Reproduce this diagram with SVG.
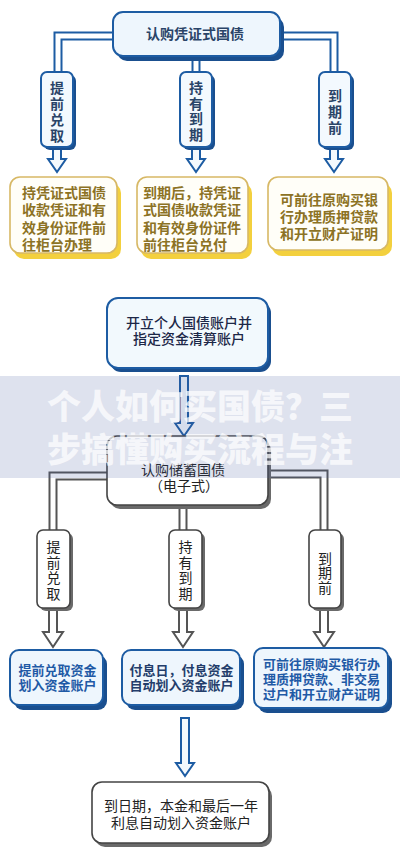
<svg xmlns="http://www.w3.org/2000/svg" width="400" height="857" viewBox="0 0 400 857">
<style>
text{font-family:"Noto Sans CJK SC","Noto Sans",sans-serif;}
.bg{fill:#ffffff}
.pb{fill:none;stroke:#1d5ca3;stroke-width:9;stroke-linejoin:miter}
.pg{fill:none;stroke:#555555;stroke-width:9;stroke-linejoin:miter}
.pw{fill:none;stroke:#ffffff;stroke-width:5;stroke-linejoin:miter}
.ab{fill:#f4f9fd;stroke:#1d5ca3;stroke-width:2;stroke-linejoin:miter}
.ag{fill:#ffffff;stroke:#555555;stroke-width:2;stroke-linejoin:miter}
.bshad{fill:#1a4f8f}
.bbox{fill:#eef6fd;stroke:#1d5ca3;stroke-width:2}
.ybox{fill:#fffef8;stroke:#d7b865;stroke-width:1.6}
.yshad{fill:#f3d03e}
.gshad{fill:#6a6a6a}
.gbox{fill:#ffffff;stroke:#444444;stroke-width:1.6}
.tb{font-size:14px;font-weight:700;fill:#2a4468}
.ty{font-size:14px;font-weight:700;fill:#8c7224}
.tn{font-size:14px;font-weight:500;fill:#1c2747}
.tg{font-size:14px;font-weight:400;fill:#222222}
.tbl{font-size:13px;font-weight:700;fill:#1f5aa6}
.c{text-anchor:middle}
.v{writing-mode:vertical-rl;text-anchor:middle}
</style>
<rect class="bg" x="0" y="0" width="400" height="857"/>

<g id="connectors">
  <path class="pb" d="M120,36 H58 V76"/><path class="pw" d="M120,36 H58 V76"/>
  <path class="pb" d="M273,36 H334 V76"/><path class="pw" d="M273,36 H334 V76"/>
  <path class="pb" d="M196,50 V76"/><path class="pw" d="M196,50 V76"/>
  <polygon class="ab" points="53,145 61,145 61,159 66,159 57,172 48,159 53,159"/>
  <polygon class="ab" points="192,145 200,145 200,159 205,159 196,172 187,159 192,159"/>
  <polygon class="ab" points="330,145 338,145 338,159 343,159 334,172 325,159 330,159"/>
  <polygon class="ab" points="180,376 188,376 188,423 193,423 184,436 175,423 180,423"/>
  <path class="pg" d="M115,476 H53 V534"/><path class="pw" d="M115,476 H53 V534"/>
  <path class="pg" d="M262,474 H324 V534"/><path class="pw" d="M262,474 H324 V534"/>
  <path class="pg" d="M183,500 V534"/><path class="pw" d="M183,500 V534"/>
  <polygon class="ag" points="49,606 57,606 57,632 63,632 53,647 43,632 49,632"/>
  <polygon class="ag" points="179,606 187,606 187,632 193,632 183,647 173,632 179,632"/>
  <polygon class="ag" points="320,606 328,606 328,632 334,632 324,647 314,632 320,632"/>
  <polygon class="ab" points="181,718 189,718 189,763 194,763 185,776 176,763 181,763"/>
</g>

<g id="node-top">
  <rect class="bshad" x="117" y="17" width="167" height="44" rx="10"/>
  <rect class="bbox" x="113" y="12" width="167" height="44" rx="10"/>
  <text class="tb c" x="195" y="39">认购凭证式国债</text>
</g>

<g id="label-t1">
  <rect class="bshad" x="44" y="75" width="32" height="75" rx="6"/>
  <rect class="bbox" x="41" y="72" width="32" height="75" rx="6" style="fill:#f3f9fe"/>
  <text class="tb v" x="57" y="113" letter-spacing="2">提前兑取</text>
</g>
<g id="label-t2">
  <rect class="bshad" x="183" y="75" width="32" height="75" rx="6"/>
  <rect class="bbox" x="180" y="72" width="32" height="75" rx="6" style="fill:#f3f9fe"/>
  <text class="tb v" x="196" y="112" letter-spacing="1.5">持有到期</text>
</g>
<g id="label-t3">
  <rect class="bshad" x="322" y="75" width="32" height="75" rx="6"/>
  <rect class="bbox" x="319" y="72" width="32" height="75" rx="6" style="fill:#f3f9fe"/>
  <text class="tb v" x="335" y="113" letter-spacing="2">到期前</text>
</g>

<g id="box-y1">
  <rect class="yshad" x="14" y="183" width="107" height="76" rx="10"/>
  <rect class="ybox" x="10" y="177" width="107" height="76" rx="10"/>
  <text class="ty"><tspan x="22" y="198">持凭证式国债</tspan><tspan x="22" y="215">收款凭证和有</tspan><tspan x="22" y="232.5">效身份证件前</tspan><tspan x="22" y="249.5">往柜台办理</tspan></text>
</g>
<g id="box-y2">
  <rect class="yshad" x="141" y="183" width="111" height="76" rx="10"/>
  <rect class="ybox" x="137" y="177" width="111" height="76" rx="10"/>
  <text class="ty"><tspan x="143" y="198">到期后，持凭证</tspan><tspan x="143" y="215">式国债收款凭证</tspan><tspan x="143" y="232.5">和有效身份证件</tspan><tspan x="143" y="249.5">前往柜台兑付</tspan></text>
</g>
<g id="box-y3">
  <rect class="yshad" x="272" y="183" width="120" height="73" rx="10"/>
  <rect class="ybox" x="268" y="177" width="120" height="73" rx="10"/>
  <text class="ty c"><tspan x="329" y="205">可前往原购买银</tspan><tspan x="329" y="222">行办理质押贷款</tspan><tspan x="329" y="238.5">和开立财产证明</tspan></text>
</g>

<g id="node-open">
  <rect class="bshad" x="110" y="302" width="161" height="70" rx="11"/>
  <rect class="bbox" x="107" y="298" width="161" height="70" rx="11" style="fill:#f2f9fd"/>
  <text class="tn c"><tspan x="189" y="327.5">开立个人国债账户并</tspan><tspan x="189" y="343.5">指定资金清算账户</tspan></text>
</g>

<g id="node-e">
  <rect class="gshad" x="110" y="440" width="161" height="69" rx="10"/>
  <rect class="gbox" x="107" y="436" width="161" height="69" rx="10"/>
  <text class="tg c"><tspan x="183" y="475">认购储蓄国债</tspan><tspan x="184" y="491">（电子式）</tspan></text>
</g>

<g id="label-g1">
  <rect class="gshad" x="40" y="533" width="33" height="78" rx="6"/>
  <rect class="gbox" x="37" y="530" width="33" height="78" rx="6"/>
  <text class="tg v" x="53.5" y="571" letter-spacing="1.5">提前兑取</text>
</g>
<g id="label-g2">
  <rect class="gshad" x="172" y="533" width="33" height="78" rx="6"/>
  <rect class="gbox" x="169" y="530" width="33" height="78" rx="6"/>
  <text class="tg v" x="185.5" y="571" letter-spacing="1.5">持有到期</text>
</g>
<g id="label-g3">
  <rect class="gshad" x="312" y="533" width="32" height="78" rx="6"/>
  <rect class="gbox" x="309" y="530" width="32" height="78" rx="6"/>
  <text class="tg v" x="325" y="573" letter-spacing="0.5">到期前</text>
</g>

<g id="box-b1">
  <rect class="bshad" x="14" y="655" width="93" height="55" rx="9"/>
  <rect class="bbox" x="10" y="650" width="93" height="55" rx="9"/>
  <text class="tbl c"><tspan x="57.5" y="675">提前兑取资金</tspan><tspan x="57.5" y="690">划入资金账户</tspan></text>
</g>
<g id="box-b2">
  <rect class="bshad" x="126" y="655" width="118" height="55" rx="9"/>
  <rect class="bbox" x="122" y="650" width="118" height="55" rx="9"/>
  <text class="tbl c" style="fill:#233d6b"><tspan x="181.5" y="675">付息日，付息资金</tspan><tspan x="181.5" y="690">自动划入资金账户</tspan></text>
</g>
<g id="box-b3">
  <rect class="bshad" x="258" y="653" width="134" height="60" rx="9"/>
  <rect class="bbox" x="254" y="648" width="134" height="60" rx="9"/>
  <text class="tbl c"><tspan x="321.5" y="669">可前往原购买银行办</tspan><tspan x="321.5" y="684">理质押贷款、非交易</tspan><tspan x="321.5" y="699">过户和开立财产证明</tspan></text>
</g>

<g id="node-final">
  <rect class="gshad" x="95" y="786" width="177" height="61" rx="10"/>
  <rect class="gbox" x="92" y="782" width="177" height="61" rx="10"/>
  <text class="tg c"><tspan x="181" y="811">到日期，本金和最后一年</tspan><tspan x="181" y="828">利息自动划入资金账户</tspan></text>
</g>

<g id="watermark">
  <rect x="0" y="376" width="400" height="102" fill="#465fa0" opacity="0.18"/>
  <text x="200" y="419" text-anchor="middle" font-size="34" font-weight="900" fill="#ffffff" opacity="0.72">个人如何买国债？三</text>
  <text x="200" y="462" text-anchor="middle" font-size="34" font-weight="900" fill="#ffffff" opacity="0.72">步搞懂购买流程与注</text>
</g>
</svg>
